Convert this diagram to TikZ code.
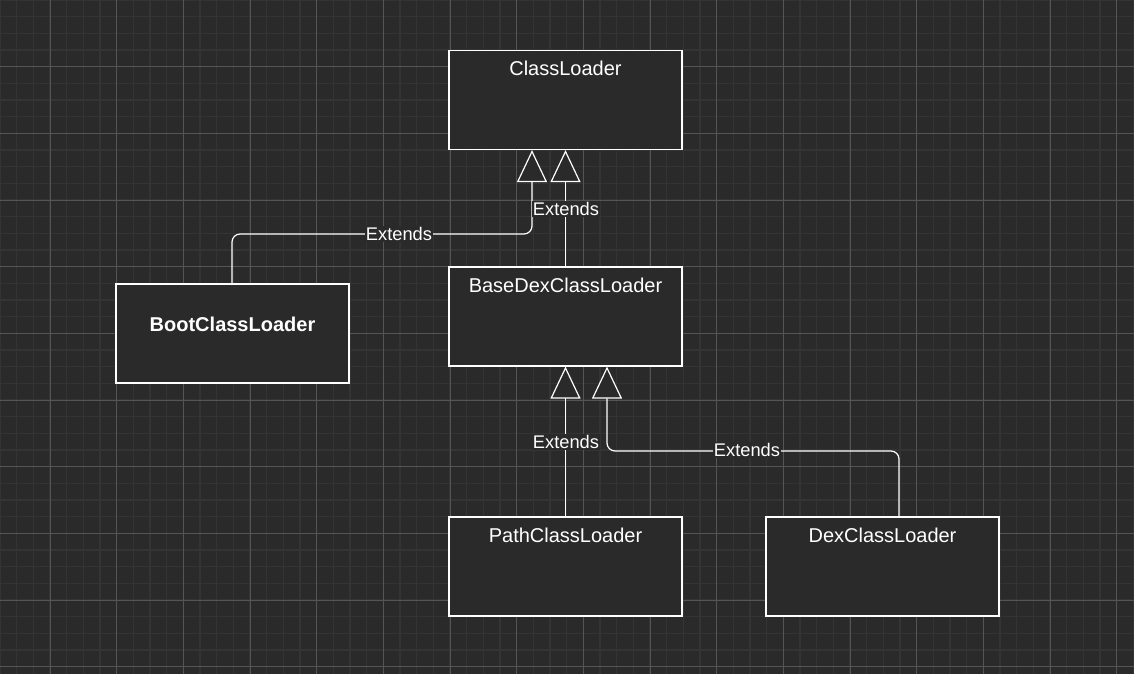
\documentclass[tikz,border=0pt]{standalone}
\usepackage{fontspec}
\setmainfont{Liberation Sans}
\usetikzlibrary{arrows.meta}
\definecolor{bg}{HTML}{2A2A2A}
\definecolor{minor}{HTML}{343434}
\definecolor{major}{HTML}{555555}
\begin{document}
\begin{tikzpicture}[x=1pt,y=-1pt,
  box/.style={draw=white,line width=1.2pt,fill=bg,minimum width=233pt,minimum height=99pt,inner sep=0pt},
  title/.style={text=white,font=\fontsize{20}{23}\selectfont},
  conn/.style={draw=white,line width=1.2pt,rounded corners=8pt,-{Triangle[open,length=32pt,width=30pt,fill=bg]}},
  lbl/.style={fill=bg,text=white,inner sep=1pt,font=\fontsize{18.3}{21}\selectfont}]
\fill[bg] (0,0) rectangle (1134,674);
\useasboundingbox (0,0) rectangle (1134,674);
\foreach \i in {0,...,68} \draw[minor,line width=1.5pt] (\i*16.667,0) -- (\i*16.667,674);
\foreach \i in {0,...,41} \draw[minor,line width=1.5pt] (0,\i*16.667) -- (1134,\i*16.667);
\foreach \i in {0,...,16} \draw[major,line width=0.8pt] (50+\i*66.667,0) -- (50+\i*66.667,674);
\foreach \i in {1,...,10} \draw[major,line width=0.8pt] (0,\i*66.667) -- (1134,\i*66.667);

\node[box] (cl) at (565.5,100) {};
\node[title] at (565.5,68) {ClassLoader};
\node[box] (bd) at (565.5,316.5) {};
\node[title] at (565.5,285) {BaseDexClassLoader};
\node[box] (bt) at (232.5,333.5) {};
\node[title,font=\fontsize{20}{23}\selectfont\bfseries] at (232.5,324) {BootClassLoader};
\node[box] (pc) at (565.5,566.5) {};
\node[title] at (565.5,535) {PathClassLoader};
\node[box] (dc) at (882.5,566.5) {};
\node[title] at (882.5,535) {DexClassLoader};

\coordinate (a1) at (232,234);
\coordinate (a2) at (532,234);
\draw[conn] (bt.north -| a1) |- (a2) -- (a2 |- cl.south);
\node[lbl] at (399,234) {Extends};

\draw[conn] (bd.north) -- (cl.south);
\node[lbl] at (566,209) {Extends};

\draw[conn] (pc.north) -- (bd.south);
\node[lbl] at (566,442) {Extends};

\coordinate (b1) at (899,451);
\coordinate (b2) at (607,451);
\draw[conn] (dc.north -| b1) |- (b2) -- (b2 |- bd.south);
\node[lbl] at (747,450) {Extends};
\end{tikzpicture}
\end{document}
